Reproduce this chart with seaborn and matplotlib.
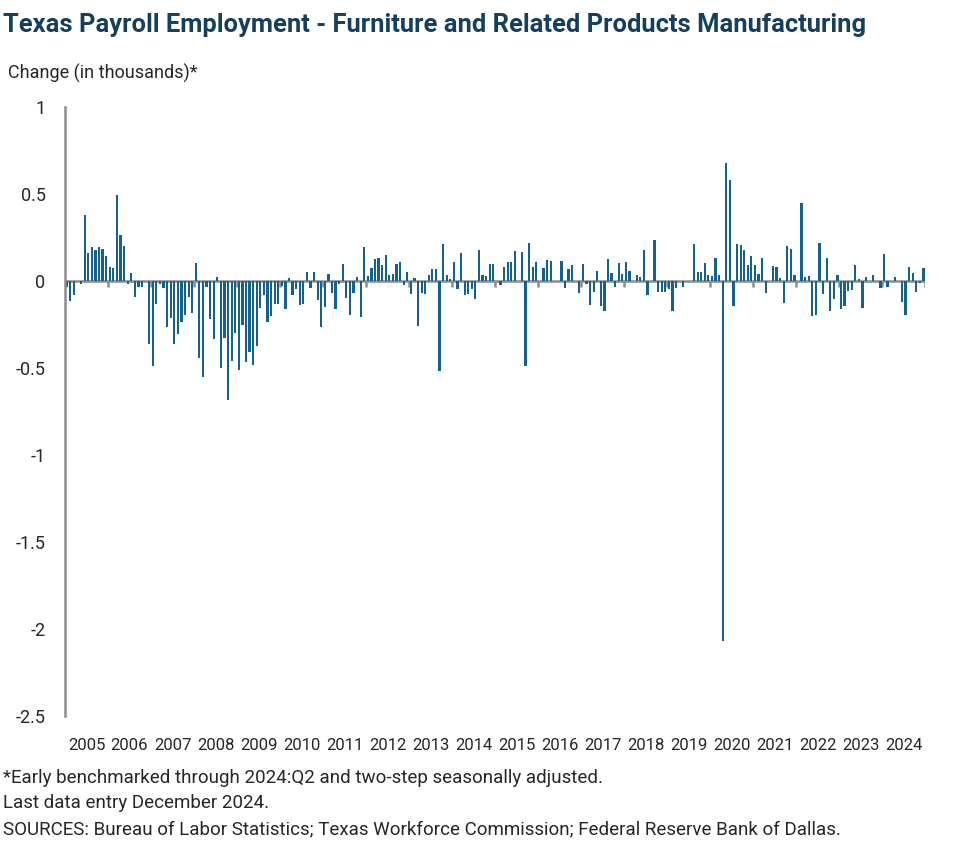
import matplotlib
matplotlib.use('Agg')
import matplotlib.pyplot as plt
import numpy as np
import pandas as pd
import seaborn as sns

sns.set_theme(style='white')
plt.rcParams['font.family'] = ['Roboto', 'DejaVu Sans']

# monthly change, Jan 2005 - Dec 2024 (thousands)
years = list(range(2005, 2025))
change = [
    # 2005
    -0.034, -0.115, -0.077, 0.0, -0.015, 0.38, 0.163, 0.197, 0.18, 0.197, 0.186, 0.146,
    # 2006
    0.08, 0.075, 0.496, 0.264, 0.20, -0.015, 0.046, -0.092, -0.034, -0.034, 0.0, -0.36,
    # 2007
    -0.49, -0.132, -0.017, -0.038, -0.264, -0.213, -0.36, -0.303, -0.236, -0.193, -0.092, -0.184,
    # 2008
    0.103, -0.44, -0.552, -0.034, -0.218, -0.33, 0.023, -0.50, -0.326, -0.68, -0.46, -0.30,
    # 2009
    -0.51, -0.25, -0.465, -0.406, -0.48, -0.37, -0.153, -0.079, -0.234, -0.20, -0.13, -0.13,
    # 2010
    -0.027, -0.159, 0.017, -0.079, -0.044, -0.136, -0.13, 0.054, -0.042, 0.054, -0.107, -0.264,
    # 2011
    -0.147, 0.042, -0.067, -0.159, -0.015, 0.098, -0.096, -0.195, -0.067, 0.025, -0.205, 0.195,
    # 2012
    0.031, 0.077, 0.128, 0.134, 0.092, 0.151, 0.034, 0.04, 0.10, 0.109, -0.023, 0.052,
    # 2013
    -0.075, 0.017, -0.259, -0.069, -0.075, 0.034, 0.071, 0.071, -0.517, 0.213, 0.034, 0.01,
    # 2014
    0.109, -0.044, 0.161, -0.079, -0.075, -0.044, -0.103, 0.18, 0.034, 0.029, 0.098, 0.096,
    # 2015
    0.0, -0.023, 0.084, 0.109, 0.109, 0.172, 0.0, 0.167, -0.485, 0.218, 0.08, 0.109,
    # 2016
    0.0, 0.075, 0.121, 0.115, 0.0, 0.0, 0.115, -0.038, 0.069, 0.092, 0.0, -0.067,
    # 2017
    0.098, -0.017, -0.136, -0.063, 0.059, -0.144, -0.17, 0.128, 0.046, -0.034, 0.103, 0.04,
    # 2018
    0.109, 0.059, 0.0, 0.034, 0.023, 0.18, -0.079, 0.0, 0.238, -0.063, -0.063, -0.063,
    # 2019
    -0.046, -0.17, -0.038, 0.0, -0.034, 0.0, 0.0, 0.213, 0.052, 0.052, 0.103, 0.034,
    # 2020
    0.029, 0.132, 0.034, -2.07, 0.678, 0.579, -0.144, 0.213, 0.207, 0.18, 0.092, 0.144,
    # 2021
    0.092, 0.04, 0.132, -0.067, 0.0, 0.086, 0.08, 0.017, -0.125, 0.20, 0.184, 0.034,
    # 2022
    0.0, 0.448, 0.023, 0.029, -0.20, -0.193, 0.218, -0.075, 0.132, -0.17, -0.103, 0.034,
    # 2023
    -0.159, -0.144, -0.057, -0.052, 0.092, 0.013, -0.153, 0.025, 0.0, 0.034, 0.0, -0.038,
    # 2024
    0.155, -0.034, 0.0, 0.025, 0.0, -0.121, -0.193, 0.08, 0.046, -0.063, -0.011, 0.075,
]

y_ticks = [1, 0.5, 0, -0.5, -1, -1.5, -2, -2.5]

df = pd.DataFrame({'month': np.arange(len(change)), 'change': change})

bar_color = '#14618b'
grey = '#8c8c8c'

fig = plt.figure(figsize=(9.77, 8.64), dpi=100)
ax = fig.add_axes([0.0665, 0.171, 0.8805, 0.705])

sns.barplot(data=df, x='month', y='change', color=bar_color, width=0.62,
            saturation=1, linewidth=0, edgecolor='none', ax=ax)

n = len(change)
ax.set_xlim(-0.5, n - 0.5)
ax.set_ylim(-2.5, 1)
ax.set_xlabel('')
ax.set_ylabel('')

# zero line and year-boundary ticks
ax.axhline(0, color=grey, lw=1.8, zorder=0.5)
bounds = [12 * k - 0.5 for k in range(len(years) + 1)]
ax.vlines(bounds, -0.035, 0, color=grey, lw=1.8, zorder=0.5)

ax.set_xticks([])
ax.set_xticks([12 * k + 5.5 for k in range(len(years))],
              [str(y) for y in years], minor=True)
ax.tick_params(axis='x', which='minor', length=0, pad=16, labelsize=12)

ax.set_yticks(y_ticks)
ax.set_yticklabels(['{:g}'.format(v) for v in y_ticks])
ax.tick_params(axis='y', length=0, pad=14, labelsize=13)

for s in ['top', 'right', 'bottom']:
    ax.spines[s].set_visible(False)
ax.spines['left'].set_color(grey)
ax.spines['left'].set_linewidth(1.8)

fig.text(0.003, 0.971, 'Texas Payroll Employment - Furniture and Related Products Manufacturing',
         fontsize=18.4, fontweight='bold', color='#163f5e', va='center', ha='left')
fig.text(0.008, 0.915, 'Change (in thousands)*', fontsize=13, va='center', ha='left')

notes = ['*Early benchmarked through 2024:Q2 and two-step seasonally adjusted.',
         'Last data entry December 2024.',
         'SOURCES: Bureau of Labor Statistics; Texas Workforce Commission; Federal Reserve Bank of Dallas.']
for k, t in enumerate(notes):
    fig.text(0.003, 1 - (778 + 25.5 * k) / 864, t, fontsize=13.5, va='center', ha='left')

fig.savefig('out.png', dpi=100)
